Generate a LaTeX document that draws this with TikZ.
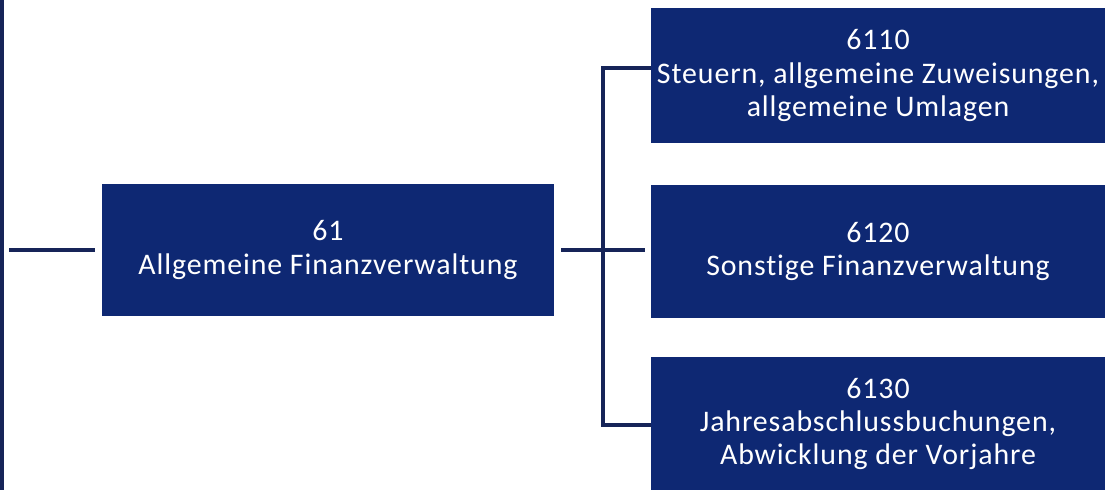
\documentclass[tikz,border=0pt]{standalone}
\usepackage{fontspec}
\setmainfont{Carlito}[LetterSpace=3, Ligatures={NoCommon}]
\definecolor{boxblue}{RGB}{14,40,115}
\definecolor{linkblue}{RGB}{22,36,88}
\tikzset{
  unit/.style={fill=boxblue, text=white, align=center, inner sep=0pt,
    font=\fontsize{17}{19}\selectfont},
  link/.style={draw=linkblue, line width=2.2pt}
}
\begin{document}
\begin{tikzpicture}[x=0.02cm, y=-0.02cm]
  \useasboundingbox (0,0) rectangle (1116,490);
  \clip (0,0) rectangle (1116,490);
  % main unit
  \node[unit, minimum width=452*0.02cm, minimum height=132*0.02cm] (fin) at (328,250)
    {61\\Allgemeine Finanzverwaltung};
  % sub units
  \node[unit, minimum width=454*0.02cm, minimum height=135*0.02cm] (s6110) at (878,75.5)
    {6110\\Steuern, allgemeine Zuweisungen,\\allgemeine Umlagen};
  \node[unit, minimum width=454*0.02cm, minimum height=133*0.02cm] (s6120) at (878,251.5)
    {6120\\Sonstige Finanzverwaltung};
  \node[unit, minimum width=454*0.02cm, minimum height=134*0.02cm] (s6130) at (878,424)
    {6130\\Jahresabschlussbuchungen,\\Abwicklung der Vorjahre};
  % left rail
  \coordinate (railtop) at (2,0);
  \coordinate (railbot) at (2,490);
  \coordinate (railout) at (9,250);
  \draw[link] (railtop) -- (railbot);
  \draw[link, shorten >=4pt] (railout) -- (fin.west);
  % trunk
  \coordinate (trunk) at (603,250);
  \coordinate (trunktop) at (603,68);
  \coordinate (trunkbot) at (603,425);
  \draw[link, shorten <=4pt] (fin.east) -- (trunk);
  \draw[link] (s6110.west |- trunktop) -- (trunktop) -- (trunkbot) -- (s6130.west |- trunkbot);
  \draw[link, shorten >=3pt] (trunk) -- (s6120.west |- trunk);
\end{tikzpicture}
\end{document}
